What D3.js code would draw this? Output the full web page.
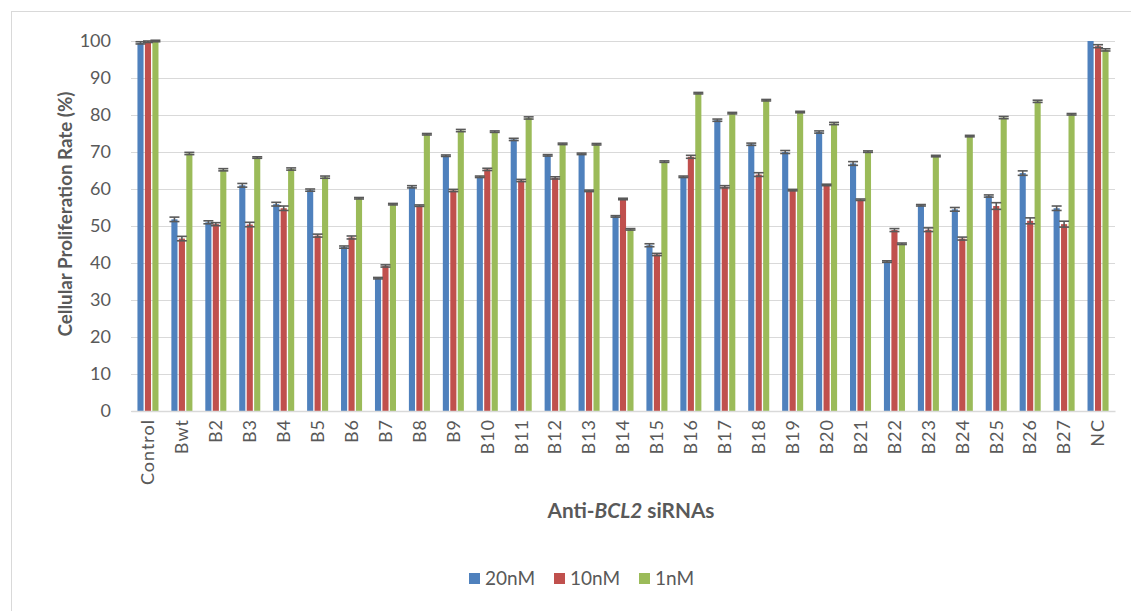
<!DOCTYPE html>
<html>
<head>
<meta charset="utf-8">
<script src="https://cdn.jsdelivr.net/npm/d3@7"></script>
<style>
  body { margin: 0; background: #fff; }
  text { font-family: Lato, "Open Sans", sans-serif; fill: #595959; }
</style>
</head>
<body>
<div id="wrapper"></div>
<script>
const categories = ["Control", "Bwt", "B2", "B3", "B4", "B5", "B6", "B7", "B8", "B9", "B10", "B11", "B12", "B13", "B14",
    "B15", "B16", "B17", "B18", "B19", "B20", "B21", "B22", "B23", "B24", "B25", "B26", "B27", "NC"];
const seriesNames = ["20nM", "10nM", "1nM"];
const seriesColors = ["#4F81BD", "#C0504D", "#9BBB59"];
const values20 = [99.5, 51.8, 51.0, 61.0, 55.9, 59.7, 44.3, 35.9, 60.6, 69.0, 63.3, 73.4, 69.1, 69.5, 52.6,
    44.8, 63.3, 78.6, 72.1, 70.0, 75.4, 66.9, 40.4, 55.6, 54.5, 58.1, 64.3, 54.8, 100];
const values10 = [99.8, 46.6, 50.5, 50.4, 54.8, 47.4, 46.9, 39.2, 55.5, 59.6, 65.3, 62.3, 63.0, 59.5, 57.3,
    42.3, 68.7, 60.6, 63.9, 59.7, 61.1, 57.1, 48.9, 49.0, 46.6, 55.4, 51.4, 50.5, 98.6];
const values1 = [100, 69.6, 65.2, 68.5, 65.4, 63.2, 57.5, 55.9, 74.8, 75.8, 75.5, 79.2, 72.2, 72.1, 49.1,
    67.4, 85.9, 80.5, 84.0, 80.8, 77.7, 70.1, 45.2, 68.9, 74.3, 79.3, 83.7, 80.2, 97.6];
const errors20 = [0.3, 0.6, 0.4, 0.5, 0.5, 0.3, 0.3, 0.2, 0.3, 0.2, 0.2, 0.3, 0.2, 0.2, 0.2,
    0.4, 0.2, 0.3, 0.3, 0.4, 0.3, 0.5, 0.2, 0.2, 0.5, 0.3, 0.6, 0.6, 0];
const errors10 = [0.2, 0.6, 0.4, 0.6, 0.6, 0.4, 0.4, 0.3, 0.2, 0.3, 0.3, 0.3, 0.3, 0.2, 0.2,
    0.3, 0.4, 0.3, 0.5, 0.2, 0.2, 0.2, 0.4, 0.5, 0.4, 0.9, 0.8, 0.8, 0.4];
const errors1 = [0.2, 0.3, 0.3, 0.2, 0.3, 0.3, 0.2, 0.2, 0.2, 0.3, 0.2, 0.3, 0.2, 0.2, 0.2,
    0.2, 0.2, 0.2, 0.2, 0.2, 0.3, 0.2, 0.2, 0.2, 0.2, 0.3, 0.3, 0.2, 0.3];
const yTicks = [0, 10, 20, 30, 40, 50, 60, 70, 80, 90, 100];

//shrink/grow a title so it spans roughly the same width as in the picture
function fitText(sel, targetWidth) {
    const w = sel.node().getComputedTextLength();
    const size = parseFloat(sel.style("font-size"));
    sel.style("font-size", (size * targetWidth / w).toFixed(2) + "px");
}

async function buildPlot() {
    const dimension = {
        width: 1131,
        height: 611,
        margin: { top: 41, left: 131, bottom: 200, right: 16 }
    };
    dimension.boundedWidth = dimension.width - dimension.margin.left - dimension.margin.right;
    dimension.boundedHeight = dimension.height - dimension.margin.top - dimension.margin.bottom;

    const allValues = [values20, values10, values1];
    const allErrors = [errors20, errors10, errors1];
    let data = [];
    //one record per bar
    categories.forEach((c, i) => {
        seriesNames.forEach((s, j) => {
            data.push({ cat: c, series: s, value: allValues[j][i], err: allErrors[j][i], color: seriesColors[j] });
        });
    });

    const svg = d3.select("#wrapper").append("svg")
        .attr("width", dimension.width)
        .attr("height", dimension.height);

    //chart frame (only left and top edges are visible in the picture)
    svg.append("rect")
        .attr("x", 11.5).attr("y", 11.5)
        .attr("width", dimension.width + 20).attr("height", dimension.height + 20)
        .attr("fill", "none").attr("stroke", "#D9D9D9");

    const bounds = svg.append("g")
        .attr("transform", `translate(${dimension.margin.left}, ${dimension.margin.top})`);

    const yScaler = d3.scaleLinear()
        .domain([0, 100])
        .range([dimension.boundedHeight, 0]);

    const xScaler = d3.scaleBand()
        .domain(categories)
        .range([0, dimension.boundedWidth])
        .paddingInner(0.38)
        .paddingOuter(0.19);

    const innerScaler = d3.scaleBand()
        .domain(seriesNames)
        .range([0, xScaler.bandwidth()])
        .paddingInner(0.18);

    //gridlines + y labels
    const yAxisGenerator = d3.axisLeft(yScaler)
        .tickValues(yTicks)
        .tickSize(-dimension.boundedWidth)
        .tickPadding(20);
    const yAxis = bounds.append("g").call(yAxisGenerator);
    yAxis.select(".domain").remove();
    yAxis.selectAll("line").attr("stroke", "#D9D9D9");
    yAxis.selectAll("text").style("font-size", "18px").attr("fill", "#595959");

    //bars
    bounds.append("g").selectAll("rect")
        .data(data)
        .enter()
        .append("rect")
        .attr("x", d => xScaler(d.cat) + innerScaler(d.series))
        .attr("y", d => yScaler(d.value))
        .attr("width", innerScaler.bandwidth())
        .attr("height", d => dimension.boundedHeight - yScaler(d.value))
        .attr("fill", d => d.color);

    //error bars
    const errG = bounds.append("g")
        .attr("stroke", "#595959")
        .attr("stroke-width", 1.6);
    const withErr = data.filter(d => d.err > 0);
    const cx = d => xScaler(d.cat) + innerScaler(d.series) + innerScaler.bandwidth() / 2;
    errG.selectAll("line.v").data(withErr).enter().append("line")
        .attr("x1", cx).attr("x2", cx)
        .attr("y1", d => yScaler(d.value + d.err))
        .attr("y2", d => yScaler(d.value - d.err));
    [1, -1].forEach(sign => {
        errG.selectAll(null).data(withErr).enter().append("line")
            .attr("x1", d => cx(d) - 5).attr("x2", d => cx(d) + 5)
            .attr("y1", d => yScaler(d.value + sign * d.err))
            .attr("y2", d => yScaler(d.value + sign * d.err));
    });

    //x axis
    const xAxisGenerator = d3.axisBottom(xScaler).tickSize(0).tickPadding(0);
    const xAxis = bounds.append("g")
        .attr("transform", `translate(0, ${dimension.boundedHeight})`)
        .call(xAxisGenerator);
    xAxis.select(".domain").attr("stroke", "#D9D9D9").attr("stroke-width", 1.5);
    xAxis.selectAll("text")
        .style("font-size", "18px")
        .style("letter-spacing", "1px")
        .attr("fill", "#595959")
        .attr("text-anchor", "end")
        .attr("dy", "0.35em")
        .attr("transform", "translate(0, 8) rotate(-90)");

    //axis titles
    const yTitle = svg.append("text")
        .attr("transform", "translate(72, 214) rotate(-90)")
        .attr("text-anchor", "middle")
        .style("font-size", "18px").style("font-weight", "bold")
        .text("Cellular Proliferation Rate (%)");
    fitText(yTitle, 245);

    const xTitle = svg.append("text")
        .attr("x", 631)
        .attr("y", 518)
        .attr("text-anchor", "middle")
        .style("font-size", "18px").style("font-weight", "bold");
    xTitle.append("tspan").text("Anti-");
    xTitle.append("tspan").style("font-style", "italic").text("BCL2");
    xTitle.append("tspan").text(" siRNAs");
    fitText(xTitle, 167);

    //legend
    const legendX = [469, 554, 639];
    const legend = svg.append("g");
    seriesNames.forEach((s, j) => {
        legend.append("rect")
            .attr("x", legendX[j]).attr("y", 573)
            .attr("width", 11).attr("height", 11)
            .attr("fill", seriesColors[j]);
        legend.append("text")
            .attr("x", legendX[j] + 16).attr("y", 585)
            .style("font-size", "19px")
            .text(s);
    });
}

buildPlot()
</script>
</body>
</html>
